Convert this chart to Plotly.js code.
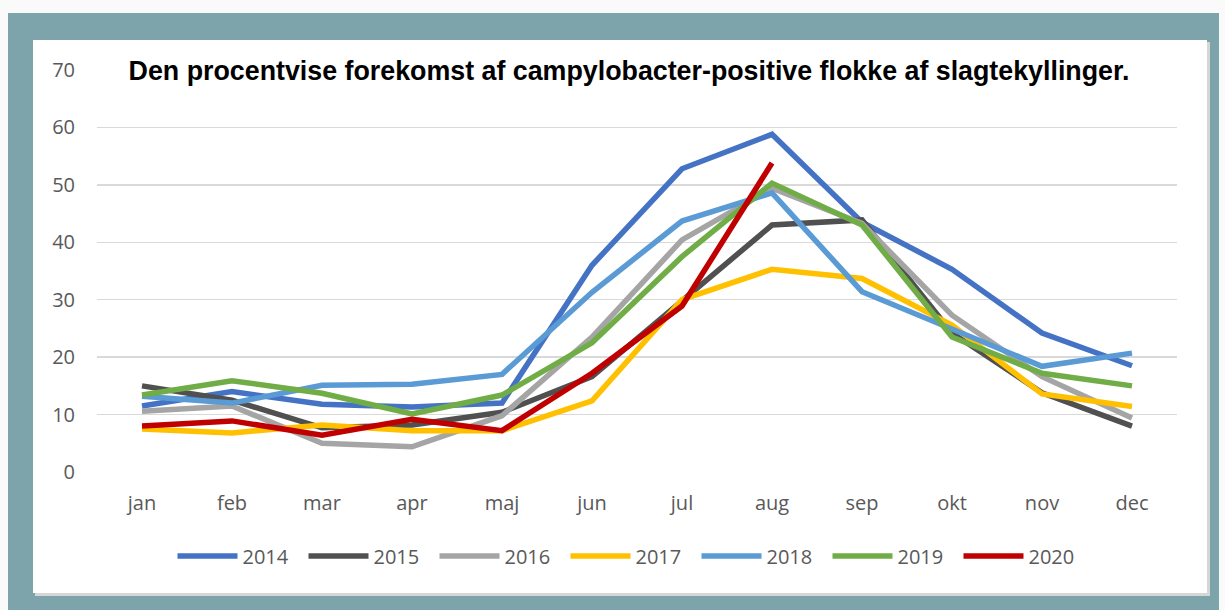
<!DOCTYPE html>
<html><head><meta charset="utf-8">
<script src="https://cdn.plot.ly/plotly-3.0.1.min.js"></script>
<style>html,body{margin:0;padding:0;background:#fafafa;}#chart{width:1225px;height:610px;}</style>
</head><body><div id="chart"></div>
<script>
const months = ["jan","feb","mar","apr","maj","jun","jul","aug","sep","okt","nov","dec"];
const years = ["2014","2015","2016","2017","2018","2019","2020"];
const v2014 = [11.5, 14.0, 11.8, 11.3, 12.0, 36.0, 52.8, 58.8, 43.5, 35.3, 24.2, 18.5];
const v2015 = [15.0, 12.5, 7.7, 8.2, 10.4, 16.6, 29.8, 43.0, 43.9, 24.2, 13.8, 8.0];
const v2016 = [10.6, 11.5, 5.0, 4.4, 9.8, 23.5, 40.4, 49.4, 43.3, 27.3, 16.6, 9.4];
const v2017 = [7.5, 6.8, 8.2, 7.2, 7.2, 12.4, 30.0, 35.3, 33.7, 25.6, 13.6, 11.4];
const v2018 = [13.2, 12.0, 15.1, 15.3, 17.0, 31.3, 43.7, 48.6, 31.4, 25.0, 18.4, 20.7];
const v2019 = [13.4, 15.9, 13.7, 10.1, 13.4, 22.5, 37.5, 50.3, 43.0, 23.5, 17.2, 15.0];
const v2020 = [8.0, 8.9, 6.4, 9.2, 7.2, 17.2, 28.9, 53.8, null, null, null, null];
const series = [v2014, v2015, v2016, v2017, v2018, v2019, v2020];
const colors = ["#4472C4","#505050","#A5A5A5","#FFC000","#5B9BD5","#70AD47","#C00000"];
const yTicks = [0,10,20,30,40,50,60,70];

const traces = series.map((vals, i) => ({
  type: "scatter", mode: "lines", name: years[i], x: months, y: vals,
  line: {color: colors[i], width: 5.5, shape: "linear"}, connectgaps: false,
  hoverinfo: "x+y+name"
}));

// plot area geometry in pixels
const L = 97, R = 48, T = 70, B = 138, W = 1225, H = 610;
const pw = W - L - R, ph = H - T - B;
const px = x => (x - L) / pw;
const py = y => (H - B - y) / ph;

const layout = {
  width: W, height: H,
  margin: {l: L, r: R, t: T, b: B, pad: 0},
  paper_bgcolor: "#fafafa", plot_bgcolor: "rgba(0,0,0,0)",
  font: {family: "'Open Sans', 'DejaVu Sans', sans-serif", color: "#595959"},
  title: {text: "Den procentvise forekomst af campylobacter-positive flokke af slagtekyllinger.",
    font: {family: "Liberation Sans, Arial, sans-serif", size: 26.8, color: "#000000", weight: "bold"},
    x: 629 / W, xanchor: "center", xref: "container", y: 1 - 71 / H, yanchor: "middle", yref: "container"},
  xaxis: {type: "category", categoryorder: "array", categoryarray: months, range: [-0.5, 11.5],
    showgrid: false, zeroline: false, showline: false, ticks: "", fixedrange: true,
    tickfont: {size: 20, color: "#595959"}, ticklabelstandoff: 17},
  yaxis: {range: [0, 70], tickvals: yTicks, ticktext: yTicks.map(String), showgrid: true,
    gridcolor: "#D9D9D9", gridwidth: 1.5, zeroline: false, showline: false, ticks: "",
    tickfont: {size: 20, color: "#595959"}, ticklabelstandoff: 21, fixedrange: true},
  showlegend: true,
  legend: {orientation: "h", x: 631 / W, xref: "container", xanchor: "center", y: 1 - 556 / H, yref: "container", yanchor: "middle",
    font: {size: 20, color: "#595959"}, entrywidth: 56, entrywidthmode: "pixels", itemwidth: 60,
    bgcolor: "rgba(0,0,0,0)", traceorder: "normal"},
  shapes: [
    {type: "rect", xref: "paper", yref: "paper", layer: "below", x0: px(8), x1: px(1219), y0: py(13), y1: py(612),
      fillcolor: "#7DA3AB", line: {width: 0}},
    {type: "rect", xref: "paper", yref: "paper", layer: "below", x0: px(35), x1: px(1210), y0: py(42), y1: py(596),
      fillcolor: "#d6d6d6", line: {width: 0}},
    {type: "rect", xref: "paper", yref: "paper", layer: "below", x0: px(33), x1: px(1207), y0: py(40), y1: py(593),
      fillcolor: "#ffffff", line: {width: 0}}
  ]
};

Plotly.newPlot("chart", traces, layout, {displayModeBar: false, staticPlot: true});
</script></body></html>
